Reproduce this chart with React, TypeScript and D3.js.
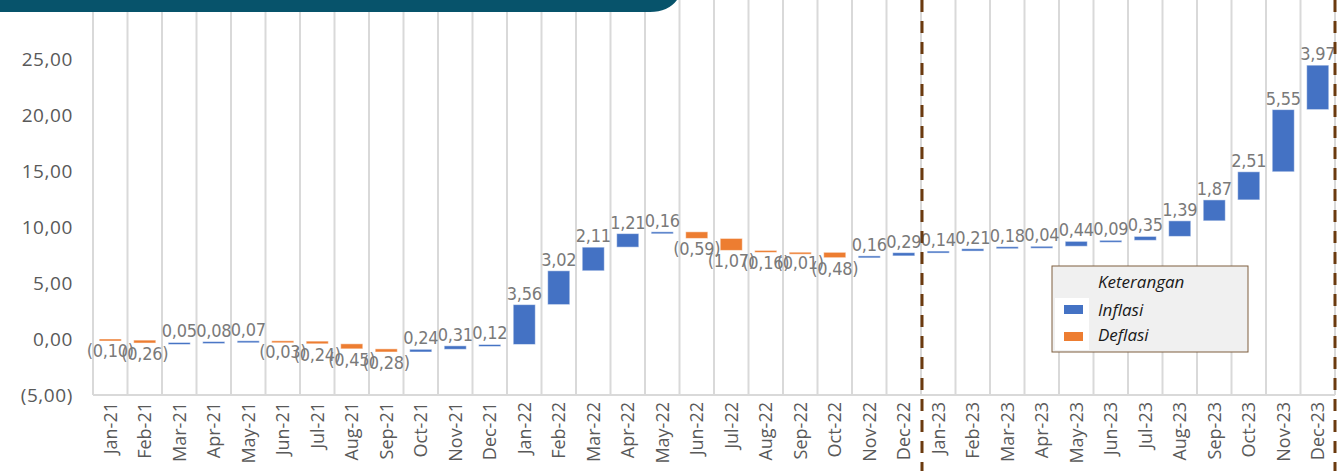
import React from "react";
import * as d3 from "d3";

const months = [
  "Jan-21","Feb-21","Mar-21","Apr-21","May-21","Jun-21","Jul-21","Aug-21","Sep-21","Oct-21","Nov-21","Dec-21",
  "Jan-22","Feb-22","Mar-22","Apr-22","May-22","Jun-22","Jul-22","Aug-22","Sep-22","Oct-22","Nov-22","Dec-22",
  "Jan-23","Feb-23","Mar-23","Apr-23","May-23","Jun-23","Jul-23","Aug-23","Sep-23","Oct-23","Nov-23","Dec-23",
];
const changes = [
  -0.10,-0.26,0.05,0.08,0.07,-0.03,-0.24,-0.45,-0.28,0.24,0.31,0.12,
  3.56,3.02,2.11,1.21,0.16,-0.59,-1.07,-0.16,-0.01,-0.48,0.16,0.29,
  0.14,0.21,0.18,0.04,0.44,0.09,0.35,1.39,1.87,2.51,5.55,3.97,
];
const yTicks = [-5, 0, 5, 10, 15, 20, 25, 30];
const legendItems = ["Inflasi", "Deflasi"];
const colors = { up: "#4472C4", down: "#ED7D31" };

const fmtNum = (v: number) => {
  const s = Math.abs(v).toFixed(2).replace(".", ",");
  return v < 0 ? `(${s})` : s;
};

export default function App() {
  const W = 1340, H = 471;
  const left = 93, right = 1335, top = 3, bottom = 395;
  const x = d3.scaleBand<string>().domain(months).range([left, right]).paddingInner(0.36).paddingOuter(0.18);
  const y = d3.scaleLinear().domain([-5, 30]).range([bottom, top]);
  const step = x.step();

  let cum = 0;
  const bars = changes.map((v, i) => {
    const start = cum;
    cum += v;
    return { m: months[i], v, start, end: cum };
  });

  const dashX = [left + step * 24 + 1, right];

  return (
    <svg width={W} height={H} style={{ position: "absolute", left: 0, top: 0, background: "#fff" }}>
      {/* vertical gridlines */}
      {d3.range(37).map((k) => (
        <line key={k} x1={left + k * step} x2={left + k * step} y1={0} y2={bottom} stroke="#D9D9D9" strokeWidth={2} />
      ))}
      <line x1={left} x2={right} y1={bottom} y2={bottom} stroke="#D9D9D9" strokeWidth={2} />

      {/* y labels */}
      {yTicks.map((t) => (
        <text key={t} x={73} y={y(t)} dy="0.35em" textAnchor="end" fontFamily="Open Sans" fontSize={19} fill="#595959" letterSpacing={0.6}>
          {t < 0 ? `(${Math.abs(t).toFixed(2).replace(".", ",")})` : t.toFixed(2).replace(".", ",")}
        </text>
      ))}

      {/* bars */}
      {bars.map((b) => {
        const y0 = y(Math.max(b.start, b.end));
        const y1 = y(Math.min(b.start, b.end));
        const h = Math.max(2, y1 - y0);
        return (
          <rect key={b.m} x={x(b.m)} y={y0} width={x.bandwidth()} height={h}
            fill={b.v >= 0 ? colors.up : colors.down} stroke="#ffffff" strokeOpacity={0.5} strokeWidth={1} />
        );
      })}

      {/* data labels */}
      {bars.map((b) => {
        const cx = (x(b.m) as number) + x.bandwidth() / 2;
        const yy = b.v >= 0 ? y(b.end) - 5 : y(b.end) + 17;
        return (
          <text key={b.m} x={cx} y={yy} textAnchor="middle"
            fontFamily="'DejaVu Sans Condensed', 'Liberation Sans Narrow', 'DejaVu Sans', sans-serif"
            fontStretch="condensed" fontSize={18} fill="#7A7A7A" letterSpacing={-0.3}>
            {fmtNum(b.v)}
          </text>
        );
      })}

      {/* x labels */}
      {months.map((m) => {
        const cx = (x(m) as number) + x.bandwidth() / 2;
        return (
          <text key={m} transform={`translate(${cx},402) rotate(-90)`} dy="0.35em" textAnchor="end" fontFamily="Open Sans" fontSize={18} fill="#595959">
            {m}
          </text>
        );
      })}

      {/* dashed separators */}
      {dashX.map((dx, i) => (
        <line key={i} x1={dx} x2={dx} y1={0} y2={H} stroke="#6B3A0F" strokeWidth={3} strokeDasharray="12,9" />
      ))}

      {/* legend */}
      <g>
        <rect x={1052} y={266} width={196} height={86} fill="#F0F0F0" stroke="#7F5F3F" strokeWidth={1} />
        <rect x={1055} y={298} width={34} height={52} fill="#FFFFFF" />
        <text x={1098} y={288} fontFamily="Open Sans" fontStyle="italic" fontSize={17} fill="#1a1a1a">Keterangan</text>
        {legendItems.map((it, i) => (
          <g key={it}>
            <rect x={1064} y={305 + i * 27} width={19} height={9} fill={i === 0 ? colors.up : colors.down} />
            <text x={1098} y={316 + i * 25} fontFamily="Open Sans" fontStyle="italic" fontSize={17} fill="#1a1a1a">{it}</text>
          </g>
        ))}
      </g>

      {/* top banner */}
      <path d="M0,0 L677,0 Q668,12 650,12 L0,12 Z" fill="#07536B" />
    </svg>
  );
}
